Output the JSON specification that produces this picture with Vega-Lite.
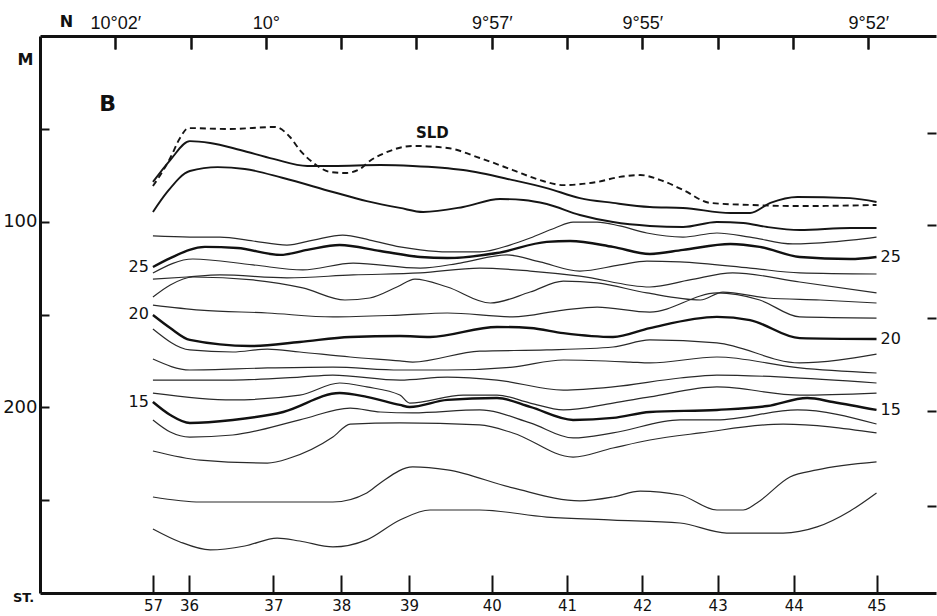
{
"$schema":"https://vega.github.io/schema/vega-lite/v6.json",
"width":896,"height":557,
"autosize":{"type":"none"},
"padding":{"left":40,"top":36,"right":1,"bottom":23},
"background":"white",
"config":{"view":{"stroke":null},"font":"DejaVu Sans","axis":{"grid":false,"domainColor":"#111","tickColor":"#111","labelColor":"#111","titleColor":"#111","domainWidth":3,"tickWidth":2,"labelFont":"DejaVu Sans","titleFont":"DejaVu Sans"}},
"datasets":{
"iso":[
{"t":28,"x":1.5,"d":78.6},{"t":28,"x":1.73,"d":66.8},{"t":28,"x":1.99,"d":56.6},{"t":28,"x":2.26,"d":57.6},{"t":28,"x":2.66,"d":61.4},{"t":28,"x":3.1,"d":66.2},{"t":28,"x":3.55,"d":70.0},{"t":28,"x":3.89,"d":70.0},{"t":28,"x":4.52,"d":69.5},{"t":28,"x":4.95,"d":70.0},{"t":28,"x":5.62,"d":72.2},{"t":28,"x":6.28,"d":77.6},{"t":28,"x":6.73,"d":81.9},{"t":28,"x":7.17,"d":87.3},{"t":28,"x":7.61,"d":89.9},{"t":28,"x":8.1,"d":92.1},{"t":28,"x":8.54,"d":92.6},{"t":28,"x":9.17,"d":95.3},{"t":28,"x":9.43,"d":95.3},{"t":28,"x":9.7,"d":89.9},{"t":28,"x":10.06,"d":86.7},{"t":28,"x":10.76,"d":87.3},{"t":28,"x":11.11,"d":89.4},
{"t":27,"x":1.5,"d":94.8},{"t":27,"x":1.69,"d":84.0},{"t":27,"x":1.99,"d":72.7},{"t":27,"x":2.36,"d":70.6},{"t":27,"x":2.72,"d":71.6},{"t":27,"x":3.23,"d":76.5},{"t":27,"x":3.89,"d":84.0},{"t":27,"x":4.34,"d":88.9},{"t":27,"x":4.78,"d":92.6},{"t":27,"x":5.09,"d":94.8},{"t":27,"x":5.62,"d":92.1},{"t":27,"x":6.11,"d":87.8},{"t":27,"x":6.42,"d":88.3},{"t":27,"x":6.73,"d":90.5},{"t":27,"x":7.17,"d":96.4},{"t":27,"x":7.61,"d":100.2},{"t":27,"x":8.1,"d":102.3},{"t":27,"x":8.54,"d":102.9},{"t":27,"x":8.99,"d":100.2},{"t":27,"x":9.34,"d":100.7},{"t":27,"x":9.66,"d":102.9},{"t":27,"x":10.09,"d":104.5},{"t":27,"x":10.76,"d":103.4},{"t":27,"x":11.11,"d":103.4},
{"t":26,"x":1.5,"d":107.7},{"t":26,"x":1.99,"d":108.3},{"t":26,"x":2.39,"d":108.3},{"t":26,"x":2.83,"d":110.4},{"t":26,"x":3.28,"d":112.6},{"t":26,"x":3.63,"d":109.9},{"t":26,"x":4.02,"d":107.2},{"t":26,"x":4.38,"d":109.9},{"t":26,"x":4.78,"d":113.6},{"t":26,"x":5.05,"d":115.2},{"t":26,"x":5.41,"d":116.3},{"t":26,"x":5.84,"d":116.3},{"t":26,"x":6.24,"d":112.6},{"t":26,"x":6.51,"d":108.8},{"t":26,"x":6.84,"d":103.4},{"t":26,"x":7.08,"d":100.2},{"t":26,"x":7.4,"d":100.2},{"t":26,"x":7.7,"d":102.3},{"t":26,"x":8.06,"d":106.1},{"t":26,"x":8.54,"d":108.3},{"t":26,"x":8.99,"d":106.1},{"t":26,"x":9.43,"d":108.3},{"t":26,"x":10.0,"d":112.0},{"t":26,"x":10.53,"d":110.9},{"t":26,"x":11.11,"d":108.3},
{"t":25,"x":1.5,"d":124.4},{"t":25,"x":1.73,"d":119.6},{"t":25,"x":2.19,"d":113.6},{"t":25,"x":2.62,"d":114.2},{"t":25,"x":3.19,"d":117.9},{"t":25,"x":3.55,"d":115.2},{"t":25,"x":3.98,"d":112.6},{"t":25,"x":4.52,"d":115.8},{"t":25,"x":5.05,"d":119.0},{"t":25,"x":5.41,"d":119.6},{"t":25,"x":6.07,"d":116.9},{"t":25,"x":6.73,"d":110.9},{"t":25,"x":7.04,"d":110.4},{"t":25,"x":7.61,"d":113.6},{"t":25,"x":8.1,"d":117.4},{"t":25,"x":8.54,"d":115.2},{"t":25,"x":9.17,"d":112.0},{"t":25,"x":9.56,"d":113.6},{"t":25,"x":10.09,"d":119.0},{"t":25,"x":10.76,"d":120.1},{"t":25,"x":11.11,"d":119.0},
{"t":24,"x":1.5,"d":127.6},{"t":24,"x":2.03,"d":120.1},{"t":24,"x":2.83,"d":123.3},{"t":24,"x":3.49,"d":126.0},{"t":24,"x":4.16,"d":122.3},{"t":24,"x":5.05,"d":125.0},{"t":24,"x":5.58,"d":122.3},{"t":24,"x":6.2,"d":117.9},{"t":24,"x":6.64,"d":121.7},{"t":24,"x":7.17,"d":126.6},{"t":24,"x":7.7,"d":123.3},{"t":24,"x":8.06,"d":121.2},{"t":24,"x":8.5,"d":121.7},{"t":24,"x":9.43,"d":125.0},{"t":24,"x":10.09,"d":127.6},{"t":24,"x":11.11,"d":128.2},
{"t":23,"x":1.5,"d":130.9},{"t":23,"x":1.95,"d":129.8},{"t":23,"x":2.39,"d":128.7},{"t":23,"x":3.28,"d":130.3},{"t":23,"x":4.16,"d":128.7},{"t":23,"x":5.05,"d":127.6},{"t":23,"x":5.84,"d":125.0},{"t":23,"x":6.51,"d":126.6},{"t":23,"x":7.17,"d":129.3},{"t":23,"x":8.1,"d":135.2},{"t":23,"x":8.63,"d":131.4},{"t":23,"x":9.2,"d":127.6},{"t":23,"x":10.09,"d":132.5},{"t":23,"x":11.11,"d":138.4},
{"t":22,"x":1.5,"d":140.6},{"t":22,"x":1.73,"d":134.1},{"t":22,"x":2.03,"d":129.8},{"t":22,"x":2.83,"d":131.4},{"t":22,"x":3.49,"d":135.7},{"t":22,"x":4.05,"d":142.2},{"t":22,"x":4.38,"d":141.1},{"t":22,"x":4.74,"d":135.2},{"t":22,"x":4.98,"d":130.9},{"t":22,"x":5.41,"d":135.2},{"t":22,"x":5.98,"d":143.8},{"t":22,"x":6.51,"d":137.9},{"t":22,"x":6.95,"d":132.0},{"t":22,"x":7.4,"d":133.0},{"t":22,"x":8.06,"d":138.4},{"t":22,"x":8.77,"d":142.2},{"t":22,"x":9.07,"d":137.9},{"t":22,"x":9.66,"d":141.1},{"t":22,"x":10.36,"d":142.2},{"t":22,"x":11.11,"d":143.8},
{"t":21,"x":1.5,"d":144.9},{"t":21,"x":2.13,"d":147.6},{"t":21,"x":3.02,"d":149.2},{"t":21,"x":3.89,"d":151.3},{"t":21,"x":4.78,"d":150.3},{"t":21,"x":5.41,"d":149.2},{"t":21,"x":6.28,"d":151.3},{"t":21,"x":6.95,"d":147.6},{"t":21,"x":7.4,"d":146.0},{"t":21,"x":8.1,"d":148.7},{"t":21,"x":8.99,"d":138.4},{"t":21,"x":9.56,"d":142.2},{"t":21,"x":10.09,"d":151.3},{"t":21,"x":11.11,"d":151.9},
{"t":20,"x":1.5,"d":150.3},{"t":20,"x":1.73,"d":157.3},{"t":20,"x":1.99,"d":163.7},{"t":20,"x":2.79,"d":167.0},{"t":20,"x":3.45,"d":164.8},{"t":20,"x":4.12,"d":162.1},{"t":20,"x":4.78,"d":161.6},{"t":20,"x":5.18,"d":162.1},{"t":20,"x":6.07,"d":156.7},{"t":20,"x":6.51,"d":157.3},{"t":20,"x":6.95,"d":160.0},{"t":20,"x":7.61,"d":162.1},{"t":20,"x":8.1,"d":157.3},{"t":20,"x":8.99,"d":151.3},{"t":20,"x":9.43,"d":153.0},{"t":20,"x":10.09,"d":162.7},{"t":20,"x":11.11,"d":163.2},
{"t":19,"x":1.5,"d":157.8},{"t":19,"x":1.99,"d":169.1},{"t":19,"x":2.56,"d":170.2},{"t":19,"x":3.02,"d":168.6},{"t":19,"x":3.45,"d":170.2},{"t":19,"x":4.12,"d":172.9},{"t":19,"x":4.78,"d":175.0},{"t":19,"x":4.95,"d":175.6},{"t":19,"x":5.84,"d":169.7},{"t":19,"x":6.73,"d":169.1},{"t":19,"x":7.61,"d":167.5},{"t":19,"x":8.1,"d":163.7},{"t":19,"x":8.99,"d":165.3},{"t":19,"x":10.09,"d":176.1},{"t":19,"x":11.11,"d":171.3},
{"t":18,"x":1.5,"d":174.0},{"t":18,"x":1.99,"d":179.9},{"t":18,"x":3.02,"d":178.8},{"t":18,"x":3.89,"d":178.3},{"t":18,"x":4.78,"d":179.9},{"t":18,"x":5.41,"d":179.9},{"t":18,"x":6.28,"d":178.3},{"t":18,"x":6.95,"d":174.5},{"t":18,"x":7.84,"d":175.6},{"t":18,"x":8.1,"d":176.1},{"t":18,"x":8.99,"d":172.9},{"t":18,"x":10.09,"d":178.8},{"t":18,"x":11.11,"d":181.5},
{"t":17,"x":1.5,"d":185.3},{"t":17,"x":2.56,"d":185.3},{"t":17,"x":3.45,"d":183.7},{"t":17,"x":3.89,"d":182.6},{"t":17,"x":4.78,"d":185.3},{"t":17,"x":5.41,"d":183.7},{"t":17,"x":6.07,"d":185.3},{"t":17,"x":6.95,"d":190.7},{"t":17,"x":7.61,"d":189.0},{"t":17,"x":8.5,"d":184.2},{"t":17,"x":8.99,"d":182.6},{"t":17,"x":9.87,"d":183.7},{"t":17,"x":11.11,"d":186.9},
{"t":16,"x":1.5,"d":192.3},{"t":16,"x":2.56,"d":196.0},{"t":16,"x":3.45,"d":193.4},{"t":16,"x":3.98,"d":186.9},{"t":16,"x":4.34,"d":189.0},{"t":16,"x":4.78,"d":193.4},{"t":16,"x":4.91,"d":197.7},{"t":16,"x":5.62,"d":193.4},{"t":16,"x":6.07,"d":193.4},{"t":16,"x":6.51,"d":197.7},{"t":16,"x":6.95,"d":201.4},{"t":16,"x":7.61,"d":197.7},{"t":16,"x":8.1,"d":194.4},{"t":16,"x":8.99,"d":189.0},{"t":16,"x":10.09,"d":193.4},{"t":16,"x":11.11,"d":192.3},
{"t":15,"x":1.5,"d":197.1},{"t":15,"x":1.73,"d":204.1},{"t":15,"x":1.99,"d":208.4},{"t":15,"x":2.56,"d":206.8},{"t":15,"x":3.23,"d":202.5},{"t":15,"x":3.98,"d":192.3},{"t":15,"x":4.34,"d":194.4},{"t":15,"x":4.78,"d":198.7},{"t":15,"x":4.91,"d":199.8},{"t":15,"x":5.41,"d":196.0},{"t":15,"x":6.07,"d":195.0},{"t":15,"x":6.51,"d":199.8},{"t":15,"x":7.08,"d":206.8},{"t":15,"x":7.61,"d":205.7},{"t":15,"x":8.1,"d":202.5},{"t":15,"x":8.99,"d":201.4},{"t":15,"x":9.66,"d":199.3},{"t":15,"x":10.19,"d":195.0},{"t":15,"x":10.53,"d":197.1},{"t":15,"x":11.11,"d":201.4},
{"t":14,"x":1.5,"d":206.8},{"t":14,"x":1.73,"d":213.3},{"t":14,"x":1.99,"d":216.0},{"t":14,"x":2.56,"d":214.9},{"t":14,"x":3.45,"d":206.8},{"t":14,"x":4.12,"d":200.4},{"t":14,"x":4.52,"d":202.5},{"t":14,"x":4.95,"d":203.0},{"t":14,"x":5.84,"d":201.4},{"t":14,"x":6.51,"d":208.4},{"t":14,"x":7.08,"d":216.5},{"t":14,"x":7.61,"d":213.8},{"t":14,"x":8.5,"d":206.8},{"t":14,"x":8.99,"d":206.8},{"t":14,"x":10.06,"d":201.4},{"t":14,"x":11.11,"d":209.0},
{"t":13,"x":1.5,"d":223.5},{"t":13,"x":2.13,"d":228.4},{"t":13,"x":3.02,"d":230.0},{"t":13,"x":3.32,"d":227.3},{"t":13,"x":3.89,"d":216.0},{"t":13,"x":4.12,"d":209.0},{"t":13,"x":4.78,"d":208.4},{"t":13,"x":5.84,"d":209.5},{"t":13,"x":6.28,"d":213.8},{"t":13,"x":7.08,"d":226.8},{"t":13,"x":7.61,"d":221.9},{"t":13,"x":8.1,"d":217.6},{"t":13,"x":8.77,"d":213.8},{"t":13,"x":9.87,"d":209.0},{"t":13,"x":11.11,"d":213.8},
{"t":12,"x":1.5,"d":248.3},{"t":12,"x":2.13,"d":251.0},{"t":12,"x":3.89,"d":251.0},{"t":12,"x":4.34,"d":246.1},{"t":12,"x":4.52,"d":240.7},{"t":12,"x":4.95,"d":232.1},{"t":12,"x":5.41,"d":233.7},{"t":12,"x":6.28,"d":243.4},{"t":12,"x":7.17,"d":250.4},{"t":12,"x":7.61,"d":248.3},{"t":12,"x":7.97,"d":245.1},{"t":12,"x":8.5,"d":247.2},{"t":12,"x":8.99,"d":255.3},{"t":12,"x":9.34,"d":255.3},{"t":12,"x":9.52,"d":251.5},{"t":12,"x":9.96,"d":237.5},{"t":12,"x":10.32,"d":233.7},{"t":12,"x":11.11,"d":229.4},
{"t":11,"x":1.5,"d":265.5},{"t":11,"x":1.86,"d":272.5},{"t":11,"x":2.26,"d":276.8},{"t":11,"x":2.72,"d":274.7},{"t":11,"x":3.15,"d":270.4},{"t":11,"x":3.45,"d":272.0},{"t":11,"x":3.89,"d":275.2},{"t":11,"x":4.34,"d":271.4},{"t":11,"x":4.78,"d":260.7},{"t":11,"x":5.18,"d":255.3},{"t":11,"x":5.84,"d":255.3},{"t":11,"x":6.73,"d":259.1},{"t":11,"x":7.61,"d":260.7},{"t":11,"x":8.5,"d":262.3},{"t":11,"x":9.12,"d":267.7},{"t":11,"x":9.87,"d":267.7},{"t":11,"x":10.32,"d":264.4},{"t":11,"x":10.76,"d":255.8},{"t":11,"x":11.11,"d":246.1}
],
"sld":[
{"x":1.5,"d":80.8},{"x":1.59,"d":75.4},{"x":1.73,"d":65.7},{"x":1.86,"d":54.9},{"x":1.97,"d":49.6},{"x":2.52,"d":50.1},{"x":3.12,"d":49.0},{"x":3.32,"d":54.4},{"x":3.45,"d":61.4},{"x":3.65,"d":68.9},{"x":3.85,"d":73.2},{"x":4.05,"d":73.8},{"x":4.25,"d":71.6},{"x":4.38,"d":67.3},{"x":4.58,"d":63.0},{"x":4.95,"d":59.2},{"x":5.41,"d":60.3},{"x":5.84,"d":65.7},{"x":6.28,"d":72.2},{"x":6.64,"d":77.6},{"x":6.95,"d":80.3},{"x":7.4,"d":78.6},{"x":7.7,"d":75.9},{"x":7.97,"d":74.9},{"x":8.24,"d":77.6},{"x":8.54,"d":82.9},{"x":8.9,"d":89.9},{"x":9.43,"d":91.0},{"x":10.09,"d":91.6},{"x":11.11,"d":91.0}
],
"lab":[
{"txt":"25","x":1.5,"d":124.4,"side":"L"},{"txt":"20","x":1.5,"d":149.5,"side":"L"},{"txt":"15","x":1.5,"d":197.1,"side":"L"},
{"txt":"25","x":11.11,"d":119.0,"side":"R"},{"txt":"20","x":11.11,"d":163.2,"side":"R"},{"txt":"15","x":11.11,"d":201.4,"side":"R"},
{"txt":"SLD","x":5.21,"d":52.0,"side":"C"},{"txt":"B","x":0.9,"d":36.6,"side":"B"}
]
},
"resolve":{"axis":{"x":"independent","y":"independent"}},
"layer":[
{"data":{"name":"iso"},
 "transform":[{"filter":"indexof([15,20,25,27,28], datum.t) < 0"}],
 "mark":{"type":"line","interpolate":"monotone","strokeWidth":1.2,"color":"#2a2a2a"},
 "encoding":{
  "x":{"field":"x","type":"quantitative","scale":{"domain":[0,11.9],"nice":false,"zero":false},
   "axis":{"orient":"bottom","values":[1.5,1.98,3.1,4.0,4.9,6.0,7.0,8.0,9.0,10.01,11.11],
    "labelExpr":"datum.value < 1.7 ? '57' : datum.value < 2.5 ? '36' : datum.value < 3.5 ? '37' : datum.value < 4.5 ? '38' : datum.value < 5.5 ? '39' : datum.value < 6.5 ? '40' : datum.value < 7.5 ? '41' : datum.value < 8.5 ? '42' : datum.value < 9.5 ? '43' : datum.value < 10.5 ? '44' : '45'",
    "tickSize":-18,"labelPadding":23,"labelFontSize":15,"labelOverlap":false,"labelFlush":false,
    "title":"ST.","titleFontSize":13,"titleFontWeight":"bold","titleX":-17,"titleY":4,"titleAlign":"center","titleBaseline":"middle","titleAngle":0}},
  "y":{"field":"d","type":"quantitative","scale":{"domain":[0,300],"reverse":true,"nice":false,"zero":false},
   "axis":{"orient":"left","values":[50,100,150,200,250],
    "labelExpr":"datum.value == 100 || datum.value == 200 ? datum.label : ''",
    "tickSize":-9,"labelPadding":12,"labelFontSize":18,
    "title":"M","titleAngle":0,"titleX":-15,"titleY":23,"titleAlign":"center","titleBaseline":"middle","titleFontSize":16,"titleFontWeight":"bold"}},
  "detail":{"field":"t"}}},
{"data":{"name":"iso"},
 "transform":[{"filter":"indexof([15,20,25], datum.t) >= 0"}],
 "mark":{"type":"line","interpolate":"monotone","strokeWidth":2.4,"color":"#111"},
 "encoding":{
  "x":{"field":"x","type":"quantitative",
   "axis":{"orient":"top","values":[1,2,3,4,5,6,7,8,9,10,11],
    "labelExpr":"datum.value == 1 ? '10°02′' : datum.value == 3 ? '10°' : datum.value == 6 ? '9°57′' : datum.value == 8 ? '9°55′' : datum.value == 11 ? '9°52′' : ''",
    "ticks":true,"tickSize":-13,"labelPadding":17,"labelFont":"Liberation Sans","labelFontSize":18,"labelDx":4,"labelOverlap":false,"labelFlush":false,
    "title":"N","titleX":26,"titleY":-15,"titleAngle":0,"titleAlign":"center","titleBaseline":"middle","titleFontSize":16,"titleFontWeight":"bold"}},
  "y":{"field":"d","type":"quantitative",
   "axis":{"orient":"right","values":[52,102,152,202,253],"labels":false,"domain":false,"tickSize":-9,"title":null}},
  "detail":{"field":"t"}}},
{"data":{"name":"iso"},
 "transform":[{"filter":"datum.t == 27 || datum.t == 28"}],
 "mark":{"type":"line","interpolate":"monotone","strokeWidth":1.9,"color":"#151515"},
 "encoding":{
  "x":{"field":"x","type":"quantitative",
   "axis":{"orient":"top","values":[1,2,3,4,5,6,7,8,9,10,11],"labels":false,"domain":false,"ticks":true,"tickSize":13,"offset":-13,"title":null}},
  "y":{"field":"d","type":"quantitative","axis":null},
  "detail":{"field":"t"}}},
{"data":{"name":"sld"},
 "mark":{"type":"line","interpolate":"monotone","strokeWidth":1.9,"color":"#151515","strokeDash":[6,4]},
 "encoding":{
  "x":{"field":"x","type":"quantitative","axis":null},
  "y":{"field":"d","type":"quantitative","axis":null}}},
{"data":{"name":"lab"},
 "transform":[{"filter":"datum.side == 'L'"}],
 "mark":{"type":"text","align":"right","baseline":"middle","dx":-4,"fontSize":16,"color":"#111"},
 "encoding":{"x":{"field":"x","type":"quantitative","axis":null},"y":{"field":"d","type":"quantitative","axis":null},"text":{"field":"txt"}}},
{"data":{"name":"lab"},
 "transform":[{"filter":"datum.side == 'R'"}],
 "mark":{"type":"text","align":"left","baseline":"middle","dx":4,"fontSize":16,"color":"#111"},
 "encoding":{"x":{"field":"x","type":"quantitative","axis":null},"y":{"field":"d","type":"quantitative","axis":null},"text":{"field":"txt"}}},
{"data":{"name":"lab"},
 "transform":[{"filter":"datum.side == 'C'"}],
 "mark":{"type":"text","align":"center","baseline":"middle","fontSize":15,"fontWeight":"bold","color":"#111"},
 "encoding":{"x":{"field":"x","type":"quantitative","axis":null},"y":{"field":"d","type":"quantitative","axis":null},"text":{"field":"txt"}}},
{"data":{"name":"lab"},
 "transform":[{"filter":"datum.side == 'B'"}],
 "mark":{"type":"text","align":"center","baseline":"middle","fontSize":22,"fontWeight":"bold","color":"#111"},
 "encoding":{"x":{"field":"x","type":"quantitative","axis":null},"y":{"field":"d","type":"quantitative","axis":null},"text":{"field":"txt"}}}
]
}
